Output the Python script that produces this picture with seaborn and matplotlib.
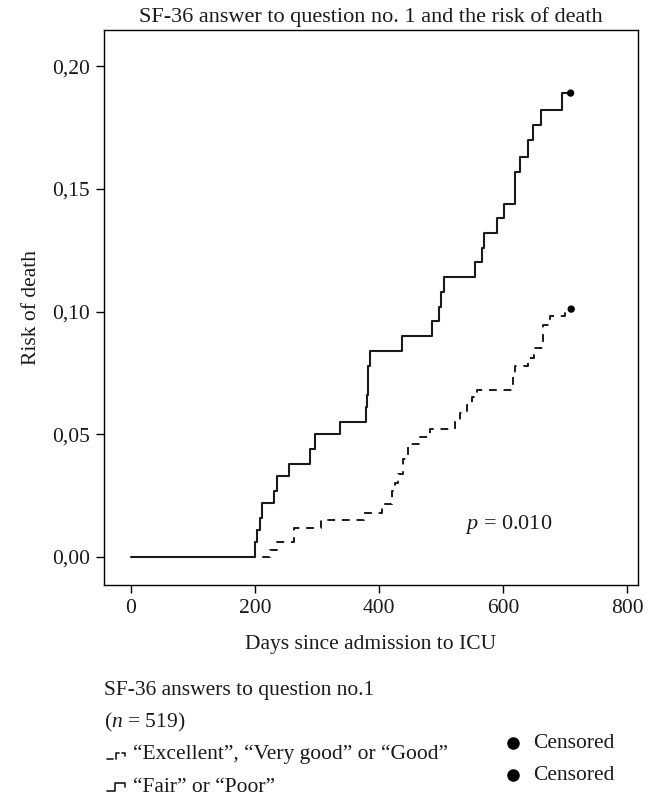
import matplotlib
matplotlib.use("Agg")
import matplotlib.pyplot as plt
import pandas as pd
import seaborn as sns
from matplotlib.lines import Line2D

# cumulative risk of death
days_poor = [0, 200, 203, 208, 212, 230, 235, 255, 289, 296, 337, 379, 381, 382, 383, 386,
             437, 485, 497, 500, 505, 555, 566, 570, 590, 601, 619, 627, 641, 648, 661, 695, 709]
risk_poor = [0, 0.006, 0.011, 0.016, 0.022, 0.027, 0.033, 0.038, 0.044, 0.050, 0.055, 0.061,
             0.066, 0.072, 0.078, 0.084, 0.090, 0.096, 0.102, 0.108, 0.114, 0.120, 0.126, 0.132,
             0.138, 0.144, 0.157, 0.163, 0.170, 0.176, 0.182, 0.189, 0.189]

days_good = [0, 224, 236, 263, 306, 376, 405, 421, 426, 431, 439, 447, 466, 482, 523, 531,
             542, 550, 558, 616, 619, 640, 650, 665, 676, 700, 710]
risk_good = [0, 0.003, 0.006, 0.012, 0.015, 0.018, 0.0215, 0.027, 0.030, 0.034, 0.040, 0.046,
             0.049, 0.052, 0.055, 0.0585, 0.062, 0.065, 0.068, 0.075, 0.078, 0.081, 0.085,
             0.0945, 0.098, 0.101, 0.101]

censor_days = [709, 710]
censor_risk = [0.189, 0.101]

x_ticks = [0, 200, 400, 600, 800]
y_ticks = [0, 0.05, 0.10, 0.15, 0.20]
y_ticklabels = ["0,00", "0,05", "0,10", "0,15", "0,20"]

poor = pd.DataFrame({"day": days_poor, "risk": risk_poor})
good = pd.DataFrame({"day": days_good, "risk": risk_good})
cens = pd.DataFrame({"day": censor_days, "risk": censor_risk})

sns.set_theme(style="ticks")
plt.rcParams["font.family"] = ["Liberation Serif", "DejaVu Serif"]
plt.rcParams["mathtext.fontset"] = "custom"
plt.rcParams["mathtext.rm"] = "Liberation Serif"
plt.rcParams["mathtext.it"] = "Liberation Serif:italic"

W, H = 654, 797
FS = 15.5
fig = plt.figure(figsize=(W / 100, H / 100), dpi=100)
# axes box in pixels: left 104, right 638, top 30, bottom 585
ax = fig.add_axes([104 / W, 1 - 585 / H, 534 / W, 555 / H])

ink = "#1a1a1a"
sns.lineplot(data=good, x="day", y="risk", ax=ax, drawstyle="steps-post", color=ink,
             linewidth=1.4, linestyle=(0, (4, 3.5)), estimator=None, sort=False)
sns.lineplot(data=poor, x="day", y="risk", ax=ax, drawstyle="steps-post", color=ink,
             linewidth=1.5, estimator=None, sort=False)
sns.scatterplot(data=cens, x="day", y="risk", ax=ax, color="black", s=28,
                edgecolor="none", zorder=5)

ax.set_xlim(-43.5, 817.7)
ax.set_ylim(-0.0114, 0.2147)
ax.set_xticks(x_ticks)
ax.set_yticks(y_ticks)
ax.set_yticklabels(y_ticklabels)
for s in ax.spines.values():
    s.set_visible(True)
    s.set_color("black")
    s.set_linewidth(1.0)
ax.tick_params(direction="out", length=6, width=1, color="black",
               labelsize=FS, labelcolor=ink, pad=4)
ax.set_xlabel("Days since admission to ICU", fontsize=FS, color=ink, labelpad=12)
ax.set_ylabel("Risk of death", fontsize=FS, color=ink, labelpad=8)
ax.set_title("SF-36 answer to question no. 1 and the risk of death",
             fontsize=16, color=ink, pad=6)

def fy(py):
    return 1 - py / H


fig.text(509 / W, fy(524), "$p$ = 0.010", fontsize=16, color=ink, ha="center", va="center")

fig.text(104 / W, fy(691), "SF-36 answers to question no.1", fontsize=FS,
         color=ink, va="center")
fig.text(104 / W, fy(722), "($n$ = 519)", fontsize=FS, color=ink, va="center")
fig.text(133 / W, fy(754), "\u201cExcellent\u201d, \u201cVery good\u201d or \u201cGood\u201d",
         fontsize=FS, color=ink, va="center")
fig.text(133 / W, fy(788), "\u201cFair\u201d or \u201cPoor\u201d", fontsize=FS,
         color=ink, va="center")

# small step glyphs in front of the legend rows
fig.add_artist(Line2D([107 / W, 113 / W], [fy(759), fy(759)], color=ink, lw=1.2))
fig.add_artist(Line2D([116 / W, 116 / W, 119 / W], [fy(759), fy(753), fy(753)],
                      color=ink, lw=1.2))
fig.add_artist(Line2D([122 / W, 125 / W, 125 / W], [fy(753), fy(753), fy(756)],
                      color=ink, lw=1.2))
fig.add_artist(Line2D([107 / W, 115 / W, 115 / W, 125 / W, 125 / W],
                      [fy(791), fy(791), fy(783), fy(783), fy(787)], color=ink, lw=1.2))

for py in (743, 775):
    fig.add_artist(Line2D([513 / W], [fy(py)], marker="o", markersize=8,
                          color="black", linestyle="none"))
    fig.text(533 / W, fy(py), "Censored", fontsize=FS, color=ink, va="center")

fig.savefig("out.png", dpi=100)
